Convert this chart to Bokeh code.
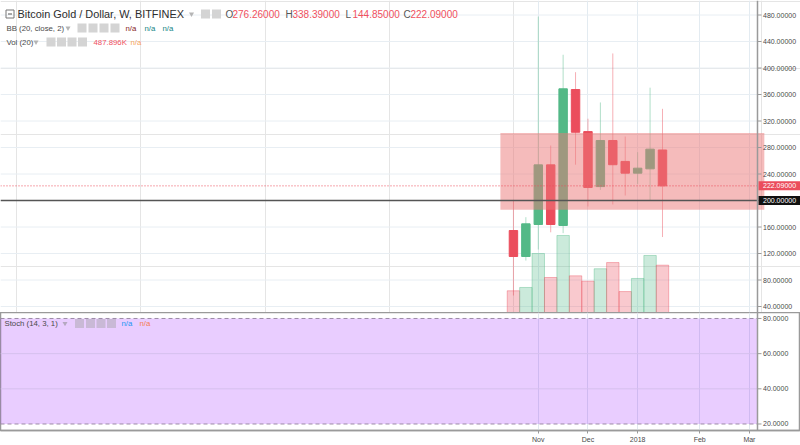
from bokeh.plotting import figure
from bokeh.models import (ColumnDataSource, Range1d, FixedTicker, Span, Label, Grid)
from bokeh.core.properties import value
from bokeh.layouts import column
from bokeh.embed import file_html
from bokeh.resources import INLINE

# ---------------- data (weekly BTG/USD, Bitfinex) ----------------
week_start = ["2017-10-16", "2017-10-23", "2017-10-30", "2017-11-06", "2017-11-13",
              "2017-11-20", "2017-11-27", "2017-12-04", "2017-12-11", "2017-12-18",
              "2017-12-25", "2018-01-01", "2018-01-08"]
opens = [154.7, 115.5, 163.8, 253.8, 162.3, 367.5, 304.0, 221.0, 290.6, 259.0, 241.3, 247.8, 276.26]
highs = [201.0, 174.8, 477.7, 283.0, 420.0, 393.7, 323.5, 348.0, 422.0, 296.6, 273.0, 370.3, 338.39]
lows = [56.6, 109.4, 126.0, 152.0, 150.7, 254.0, 191.0, 216.0, 194.0, 207.5, 225.0, 200.0, 144.85]
closes = [115.5, 164.8, 253.8, 163.8, 368.6, 303.0, 219.6, 290.6, 254.0, 241.3, 248.8, 277.5, 222.09]
volumes_k = [224, 258, 608, 361, 794, 378, 323, 451, 515, 216, 351, 588, 487.896]

tick_week_index = [2, 6, 10, 15, 19]
tick_labels = ["Nov", "Dec", "2018", "Feb", "Mar"]
price_ticks = [40, 80, 120, 160, 200, 240, 280, 320, 360, 400, 440, 480]
stoch_ticks = [20, 40, 60, 80]

zone_low, zone_high, zone_start, zone_end = 186.0, 302.0, -1.05, 20.2
support_level = 200.0

# ---------------- layout constants ----------------
W = 800
MAIN_H = 312
STOCH_H = 133
BAR_PX = 12.42             # pixels per weekly bar
PRICE_PX = 0.6625          # pixels per price unit
X0 = -41.3
X1 = X0 + W / BAR_PX       # full frame (price scale area included)
X_AX = 19.65               # position of the price scale line
Y1 = 501.9
Y0 = Y1 - MAIN_H / PRICE_PX
S0, S1 = 16.3, 83.4
VOL_END = 3217
FONT = "Liberation Sans"
AXC = "#9a9a9a"
LBLC = "#4a4a4a"

ppx = W / (X1 - X0)
ppy = MAIN_H / (Y1 - Y0)


def xo(px):
    return X0 + px / ppx


def yd(px):
    return Y1 - px / ppy


GREEN = "#53b987"
RED = "#eb4d5c"

idx = list(range(len(opens)))
up = [c >= o for o, c in zip(opens, closes)]
src = ColumnDataSource(dict(
    x=idx, o=opens, h=highs, l=lows, c=closes,
    top=[max(o, c) for o, c in zip(opens, closes)],
    bot=[min(o, c) for o, c in zip(opens, closes)],
    col=[GREEN if u else RED for u in up],
    vol=volumes_k,
))


def price_scale(fig, ticks, fmt):
    """price scale drawn at X_AX inside the frame"""
    fig.add_layout(Span(location=X_AX, dimension="height", line_color=AXC, line_width=1.5))
    fig.segment(x0=[X_AX] * len(ticks), y0=ticks, x1=[X_AX + 4 / ppx] * len(ticks), y1=ticks,
                line_color=AXC, line_width=1)
    fig.text(x=[X_AX + 5.5 / ppx] * len(ticks), y=ticks, text=[fmt % t for t in ticks],
             text_font=value(FONT), text_font_size="7px", text_color=LBLC,
             text_baseline="middle", text_align="left")


p = figure(width=W, height=MAIN_H, x_range=Range1d(X0, X1), y_range=Range1d(Y0, Y1),
           x_axis_location=None, y_axis_location=None, toolbar_location=None,
           output_backend="svg", min_border=0)
p.outline_line_color = None
p.background_fill_color = "white"
p.border_fill_color = "white"
p.extra_y_ranges = {"vol": Range1d(0, VOL_END)}
p.add_layout(Grid(dimension=0, ticker=FixedTicker(ticks=tick_week_index),
                  grid_line_color="#e3ebf1"))
p.segment(x0=[X0] * len(price_ticks), y0=price_ticks, x1=[X_AX] * len(price_ticks),
          y1=price_ticks, line_color="#e8eef3", line_width=1)

# volume
p.vbar(x="x", width=1.0, top="vol", bottom=0, source=src, y_range_name="vol",
       fill_color="col", fill_alpha=0.3, line_color="col", line_alpha=0.4, line_width=1)
# candles
p.segment(x0="x", y0="l", x1="x", y1="h", source=src, line_color="col",
          line_alpha=0.45, line_width=1)
p.vbar(x="x", width=0.68, top="top", bottom="bot", source=src,
       fill_color="col", line_color="col", line_width=1)
# zone rectangle
p.quad(left=[zone_start], right=[zone_end], bottom=[zone_low], top=[zone_high],
       fill_color=(235, 119, 119), fill_alpha=0.5, line_color=None)

p.segment(x0=[X0], y0=[support_level], x1=[X_AX], y1=[support_level],
          line_color="#555555", line_width=1.5)
p.segment(x0=[X0], y0=[closes[-1]], x1=[X_AX], y1=[closes[-1]],
          line_color=RED, line_width=1, line_dash="1 2")

price_scale(p, price_ticks, "%.5f")

# last price / level boxes on the scale
box_cx = (X_AX + 1 / ppx + X1) / 2
box_w = X1 - X_AX - 1 / ppx
p.rect(x=[box_cx, box_cx], y=[closes[-1], support_level], width=box_w, height=9,
       height_units="screen", fill_color=[RED, "#111111"], line_color=None)
p.text(x=[X_AX + 5.5 / ppx] * 2, y=[closes[-1], support_level],
       text=[f"{closes[-1]:.5f}", f"{support_level:.5f}"],
       text_font=value(FONT), text_font_size="7px", text_color="white",
       text_baseline="middle", text_align="left")


def hlabel(fig, px, y, text, color, size):
    fig.add_layout(Label(x=xo(px), y=y, text=text, text_color=color,
                         text_font=FONT, text_font_size=f"{size}px",
                         text_baseline="middle", text_align="left"))


# header rows
r1, r2, r3 = yd(13.5), yd(27.5), yd(41.5)
p.rect(x=[xo(9.5)], y=[r1], width=8, height=8, width_units="screen",
       height_units="screen", fill_color=None, line_color="#777777", line_width=1)
p.rect(x=[xo(9.5)], y=[r1], width=4, height=1, width_units="screen",
       height_units="screen", fill_color="#555555", line_color=None)
hlabel(p, 17, r1, "Bitcoin Gold / Dollar, W, BITFINEX", "#2d2d2d", 10.9)
ohlc = [("O", opens[-1], 225), ("H", highs[-1], 285), ("L", lows[-1], 345), ("C", closes[-1], 403)]
for letter, v, px in ohlc:
    hlabel(p, px, r1, letter, "#555555", 10)
    hlabel(p, px + 7, r1, f"{v:.5f}", "#f0505e", 10)

hlabel(p, 6, r2, "BB (20, close, 2)", LBLC, 7.8)
for txt, col, px in [("n/a", "#872323", 125), ("n/a", "#138484", 144), ("n/a", "#138484", 162)]:
    hlabel(p, px, r2, txt, col, 7.8)

hlabel(p, 6, r3, "Vol (20)", LBLC, 7.8)
hlabel(p, 93, r3, f"{volumes_k[-1]:.3f}K", "#f0505e", 7.8)
hlabel(p, 130, r3, "n/a", "#f7a35c", 7.8)

icon_x = [205, 216, 81.5, 92.5, 103.5, 114.5, 50.5, 61, 71.5, 82]
icon_y = [r1, r1, r2, r2, r2, r2, r3, r3, r3, r3]
p.rect(x=[xo(v) for v in icon_x], y=icon_y, width=9, height=9, width_units="screen",
       height_units="screen", fill_color="#d4d4d4", line_color=None)
p.scatter(x=[xo(191), xo(67.5), xo(35.5)], y=[r1, r2, r3], marker="inverted_triangle",
          size=5, fill_color="#b5b5b5", line_color=None)

# ---------------- stochastic pane ----------------
p2 = figure(width=W, height=STOCH_H, x_range=p.x_range, y_range=Range1d(S0, S1),
            x_axis_location="below", y_axis_location=None, toolbar_location=None,
            output_backend="svg", min_border=0)
p2.outline_line_color = AXC
p2.outline_line_width = 1.5
p2.border_fill_color = "white"
p2.xaxis.ticker = FixedTicker(ticks=tick_week_index)
p2.xaxis.major_label_overrides = {t: lab for t, lab in zip(tick_week_index, tick_labels)}
ax = p2.xaxis
ax.axis_line_color = AXC
ax.axis_line_width = 1.5
ax.major_tick_line_color = AXC
ax.major_tick_out = 3
ax.major_tick_in = 0
ax.minor_tick_line_color = None
ax.major_label_text_font = FONT
ax.major_label_text_font_size = "7px"
ax.major_label_text_color = LBLC
ax.major_label_standoff = 2
p2.ygrid.grid_line_color = None
p2.xgrid.grid_line_color = "#e0e7ee"

p2.quad(left=[X0 - 5], right=[X_AX], bottom=[stoch_ticks[0]], top=[stoch_ticks[-1]],
        fill_color=(153, 21, 255), fill_alpha=0.21, line_color=None)
mid = stoch_ticks[1:-1]
p2.segment(x0=[X0] * len(mid), y0=mid, x1=[X_AX] * len(mid), y1=mid,
           line_color="#d6c0ee", line_width=1)
ends = [stoch_ticks[0], stoch_ticks[-1]]
p2.segment(x0=[X0] * 2, y0=ends, x1=[X_AX] * 2, y1=ends, line_color="#9c8aa6",
           line_width=1, line_dash="4 3")
price_scale(p2, stoch_ticks, "%.4f")

sy = 77.2
hlabel(p2, 4, sy, "Stoch (14, 3, 1)", LBLC, 7.8)
hlabel(p2, 121, sy, "n/a", "#2196f3", 7.8)
hlabel(p2, 139, sy, "n/a", "#f57c52", 7.8)
p2.rect(x=[xo(v) for v in [79, 90, 100.5, 111]], y=[sy] * 4, width=9, height=9,
        width_units="screen", height_units="screen", fill_color="#c9b9d6", line_color=None)
p2.scatter(x=[xo(64.5)], y=[sy], marker="inverted_triangle", size=5,
           fill_color="#b5a8c0", line_color=None)

layout = column(p, p2, spacing=0)
open("out.html", "w").write(file_html(layout, INLINE))
